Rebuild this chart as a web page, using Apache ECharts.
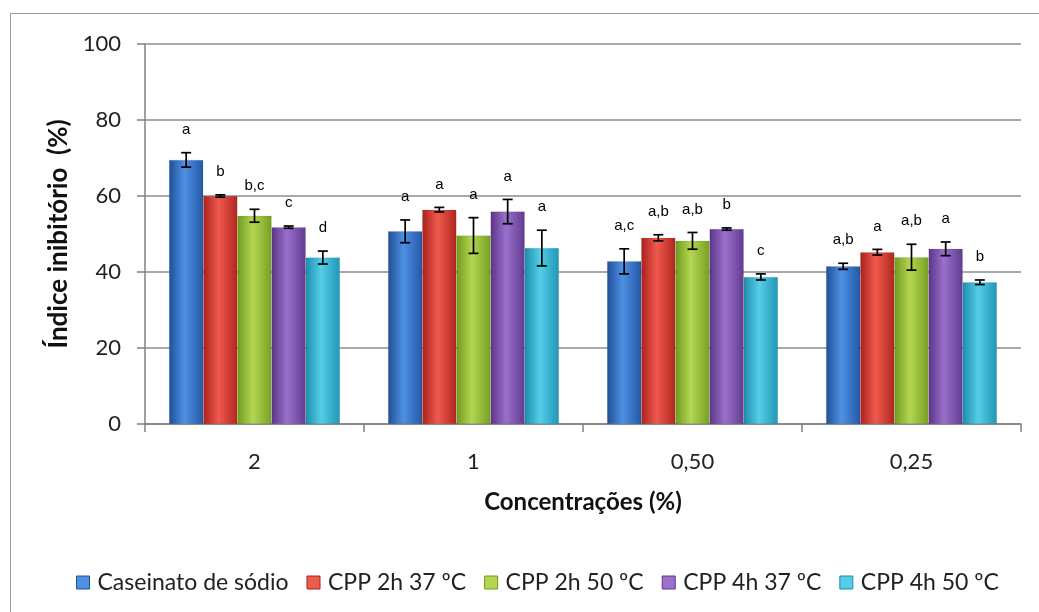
<!DOCTYPE html>
<html>
<head>
<meta charset="utf-8">
<script src="https://cdn.jsdelivr.net/npm/echarts@6/dist/echarts.min.js"></script>
<style>
html,body{margin:0;padding:0;background:#fff;}
#frame{position:absolute;left:10px;top:13px;width:1040px;height:610px;border:1.5px solid #9a9a9a;box-sizing:border-box;}
#chart{position:absolute;left:0;top:0;width:1039px;height:612px;}
</style>
</head>
<body>
<div id="frame"></div>
<div id="chart"></div>
<script>
// ---- data ----
var categories = ['2', '1', '0,50', '0,25'];
var seriesNames = ['Caseinato de sódio', 'CPP 2h 37 ºC', 'CPP 2h 50 ºC', 'CPP 4h 37 ºC', 'CPP 4h 50 ºC'];
var caseinato = [69.5, 50.7, 42.8, 41.5];
var cpp2h37   = [60.0, 56.4, 49.0, 45.2];
var cpp2h50   = [54.8, 49.6, 48.2, 43.9];
var cpp4h37   = [51.8, 55.9, 51.3, 46.1];
var cpp4h50   = [43.8, 46.3, 38.7, 37.3];
var errCaseinato = [1.9, 3.0, 3.3, 0.8];
var errCpp2h37   = [0.3, 0.6, 0.8, 0.75];
var errCpp2h50   = [1.7, 4.7, 2.2, 3.4];
var errCpp4h37   = [0.3, 3.2, 0.3, 1.8];
var errCpp4h50   = [1.7, 4.7, 0.8, 0.6];
var letCaseinato = ['a', 'a', 'a,c', 'a,b'];
var letCpp2h37   = ['b', 'a', 'a,b', 'a'];
var letCpp2h50   = ['b,c', 'a', 'a,b', 'a,b'];
var letCpp4h37   = ['c', 'a', 'b', 'a'];
var letCpp4h50   = ['d', 'a', 'c', 'b'];
var yTicks = [0, 20, 40, 60, 80, 100];

// ---- build ----
var values = [caseinato, cpp2h37, cpp2h50, cpp4h37, cpp4h50];
var errs = [errCaseinato, errCpp2h37, errCpp2h50, errCpp4h37, errCpp4h50];
var letters = [letCaseinato, letCpp2h37, letCpp2h50, letCpp4h37, letCpp4h50];
var palettes = [
  ['#1f4f96', '#4f90e4', '#2458a6'],
  ['#a8201c', '#ef5a4e', '#b0261f'],
  ['#6f9a1c', '#b4d652', '#779f22'],
  ['#5a3587', '#9a70cc', '#603b90'],
  ['#1a8fad', '#55cde6', '#1f97b5']
];
var CAT_GAP = 0.22;
var N = values.length;

var series = values.map(function (v, i) {
  var p = palettes[i];
  return {
    name: seriesNames[i],
    type: 'bar',
    data: v,
    barGap: '0%',
    barCategoryGap: (CAT_GAP * 100) + '%',
    itemStyle: {
      color: new echarts.graphic.LinearGradient(0, 0, 1, 0, [
        {offset: 0, color: p[0]},
        {offset: 0.45, color: p[1]},
        {offset: 1, color: p[2]}
      ]),
      borderColor: 'rgba(0,0,0,0.15)',
      borderWidth: 0.5
    },
    z: 2
  };
});

var errData = [];
for (var s = 0; s < N; s++) {
  for (var c = 0; c < categories.length; c++) {
    errData.push([c, values[s][c], errs[s][c], s, letters[s][c]]);
  }
}

series.push({
  type: 'custom',
  name: 'err',
  data: errData,
  z: 5,
  silent: true,
  encode: {x: 0, y: 1},
  renderItem: function (params, api) {
    var c = api.value(0), v = api.value(1), e = api.value(2), s = api.value(3);
    var letter = errData[params.dataIndex][4];
    var band = api.size([1, 0])[0];
    var bw = band * (1 - CAT_GAP) / N;
    var center = api.coord([c, v]);
    var x = center[0] - band * (1 - CAT_GAP) / 2 + bw * (s + 0.5);
    var top = api.coord([c, v + e])[1];
    var bot = api.coord([c, v - e])[1];
    var cap = 5;
    var st = {stroke: '#000', lineWidth: 1.7};
    return {
      type: 'group',
      children: [
        {type: 'line', shape: {x1: x, y1: top, x2: x, y2: bot}, style: st},
        {type: 'line', shape: {x1: x - cap, y1: top, x2: x + cap, y2: top}, style: st},
        {type: 'line', shape: {x1: x - cap, y1: bot, x2: x + cap, y2: bot}, style: st},
        {type: 'text', x: x, y: top - 23, style: {
          text: letter, fill: '#000', font: '15px "Liberation Sans", Arial, sans-serif',
          align: 'center', verticalAlign: 'middle'
        }}
      ]
    };
  }
});

var chart = echarts.init(document.getElementById('chart'), null, {renderer: 'canvas'});
chart.setOption({
  animation: false,
  backgroundColor: 'transparent',
  grid: {left: 145, right: 18, top: 44, bottom: 188, containLabel: false},
  legend: {
    data: seriesNames.map(function (n, i) {
      return {name: n, itemStyle: {color: palettes[i][1], borderColor: palettes[i][0], borderWidth: 1}};
    }),
    left: 71,
    top: 566,
    itemWidth: 13,
    itemHeight: 13,
    itemGap: 18,
    icon: 'rect',
    textStyle: {fontFamily: 'Lato', fontSize: 23, color: '#222', padding: [0, 0, 0, 3]}
  },
  xAxis: {
    type: 'category',
    data: categories,
    name: 'Concentrações (%)',
    nameLocation: 'middle',
    nameGap: 66,
    nameTextStyle: {fontFamily: 'Lato', fontSize: 24, fontWeight: 'bold', color: '#111'},
    axisLine: {lineStyle: {color: '#808080', width: 1.5}},
    axisTick: {show: true, length: 8, lineStyle: {color: '#808080', width: 1.5}},
    axisLabel: {fontFamily: 'Lato', fontSize: 22, color: '#222', margin: 27}
  },
  yAxis: {
    type: 'value',
    min: yTicks[0],
    max: yTicks[yTicks.length - 1],
    interval: yTicks[1] - yTicks[0],
    name: 'Índice inibitório  (%)',
    nameLocation: 'middle',
    nameGap: 72,
    nameRotate: 90,
    nameTextStyle: {fontFamily: 'Lato', fontSize: 26, fontWeight: 'bold', color: '#111'},
    axisLine: {show: true, lineStyle: {color: '#808080', width: 1.5}},
    axisTick: {show: true, length: 8, lineStyle: {color: '#808080', width: 1.5}},
    axisLabel: {fontFamily: 'Lato', fontSize: 22, color: '#222', margin: 24},
    splitLine: {lineStyle: {color: '#8c8c8c', width: 1.5}}
  },
  series: series
});
</script>
</body>
</html>
